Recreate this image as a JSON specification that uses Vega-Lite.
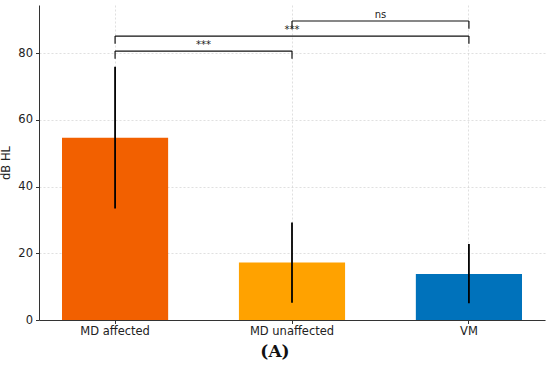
{
  "$schema": "https://vega.github.io/schema/vega-lite/v6.json",
  "width": 506,
  "height": 315,
  "autosize": "none",
  "padding": {"left": 39, "top": 5, "right": 5, "bottom": 46},
  "background": "white",
  "config": {
    "view": {"stroke": null},
    "font": "DejaVu Sans",
    "axis": {
      "labelFont": "DejaVu Sans",
      "titleFont": "DejaVu Sans",
      "labelFontSize": 11.5,
      "titleFontSize": 11.5,
      "titleFontWeight": "normal",
      "labelColor": "#222",
      "titleColor": "#222",
      "domainColor": "#333",
      "tickColor": "#333",
      "gridColor": "#c8c8c8",
      "gridDash": [2, 2],
      "gridWidth": 0.8,
      "gridOpacity": 0.7
    }
  },
  "title": {
    "text": "(A)",
    "orient": "bottom",
    "anchor": "middle",
    "font": "DejaVu Serif",
    "fontWeight": "bold",
    "fontSize": 17,
    "color": "#111",
    "dx": -17,
    "offset": 7
  },
  "datasets": {
    "bars": [
      {"group": "MD affected", "mean": 54.6, "lo": 33.4, "hi": 75.9},
      {"group": "MD unaffected", "mean": 17.2, "lo": 5.2, "hi": 29.2},
      {"group": "VM", "mean": 13.8, "lo": 5.0, "hi": 22.8}
    ],
    "brackets": [
      {"g1": "MD affected", "g2": "MD unaffected", "y": 80.6, "ylo": 78.3, "label": "***", "labelY": 82.4, "mid": "MD affected"},
      {"g1": "MD affected", "g2": "VM", "y": 85.1, "ylo": 82.8, "label": "***", "labelY": 86.9, "mid": "MD unaffected"},
      {"g1": "MD unaffected", "g2": "VM", "y": 89.6, "ylo": 87.3, "label": "ns", "labelY": 91.4, "mid": "MD unaffected"}
    ]
  },
  "layer": [
    {
      "data": {"name": "bars"},
      "mark": {"type": "bar"},
      "encoding": {
        "x": {
          "field": "group",
          "type": "nominal",
          "sort": null,
          "scale": {"paddingInner": 0.4, "paddingOuter": 0.13},
          "axis": {
            "title": null,
            "labelAngle": 0,
            "bandPosition": 0.5,
            "grid": true,
            "tickSize": 3.5,
            "labelPadding": 2
          }
        },
        "y": {
          "field": "mean",
          "type": "quantitative",
          "scale": {"domain": [0, 94.4], "nice": false},
          "axis": {
            "title": "dB HL",
            "values": [0, 20, 40, 60, 80],
            "grid": true,
            "tickSize": 3.5,
            "labelPadding": 3,
            "titlePadding": 6
          }
        },
        "color": {
          "field": "group",
          "type": "nominal",
          "sort": null,
          "scale": {"range": ["#f26000", "#ffa200", "#0072bb"]},
          "legend": null
        }
      }
    },
    {
      "data": {"name": "bars"},
      "mark": {"type": "rule", "color": "black", "strokeWidth": 1.8},
      "encoding": {
        "x": {"field": "group", "type": "nominal", "sort": null, "bandPosition": 0.5},
        "y": {"field": "lo", "type": "quantitative"},
        "y2": {"field": "hi"}
      }
    },
    {
      "data": {"name": "brackets"},
      "mark": {"type": "rule", "color": "#111", "strokeWidth": 1.2},
      "encoding": {
        "x": {"field": "g1", "type": "nominal", "sort": null, "bandPosition": 0.5},
        "x2": {"field": "g2", "bandPosition": 0.5},
        "y": {"field": "y", "type": "quantitative"}
      }
    },
    {
      "data": {"name": "brackets"},
      "transform": [{"fold": ["g1", "g2"], "as": ["end", "grp"]}],
      "mark": {"type": "rule", "color": "#111", "strokeWidth": 1.2},
      "encoding": {
        "x": {"field": "grp", "type": "nominal", "sort": null, "bandPosition": 0.5},
        "y": {"field": "ylo", "type": "quantitative"},
        "y2": {"field": "y"}
      }
    },
    {
      "data": {"name": "brackets"},
      "transform": [{"filter": "datum.g1 === 'MD affected' && datum.g2 === 'VM'"}],
      "mark": {"type": "text", "fontSize": 10, "color": "#222", "baseline": "middle"},
      "encoding": {
        "x": {"field": "mid", "type": "nominal", "sort": null, "bandPosition": 0.5},
        "y": {"field": "labelY", "type": "quantitative"},
        "text": {"field": "label"}
      }
    },
    {
      "data": {"name": "brackets"},
      "transform": [{"filter": "!(datum.g1 === 'MD affected' && datum.g2 === 'VM')"}],
      "mark": {"type": "text", "fontSize": 10, "color": "#222", "baseline": "middle"},
      "encoding": {
        "x": {"field": "g1", "type": "nominal", "sort": null, "bandPosition": 1.333},
        "y": {"field": "labelY", "type": "quantitative"},
        "text": {"field": "label"}
      }
    }
  ]
}
